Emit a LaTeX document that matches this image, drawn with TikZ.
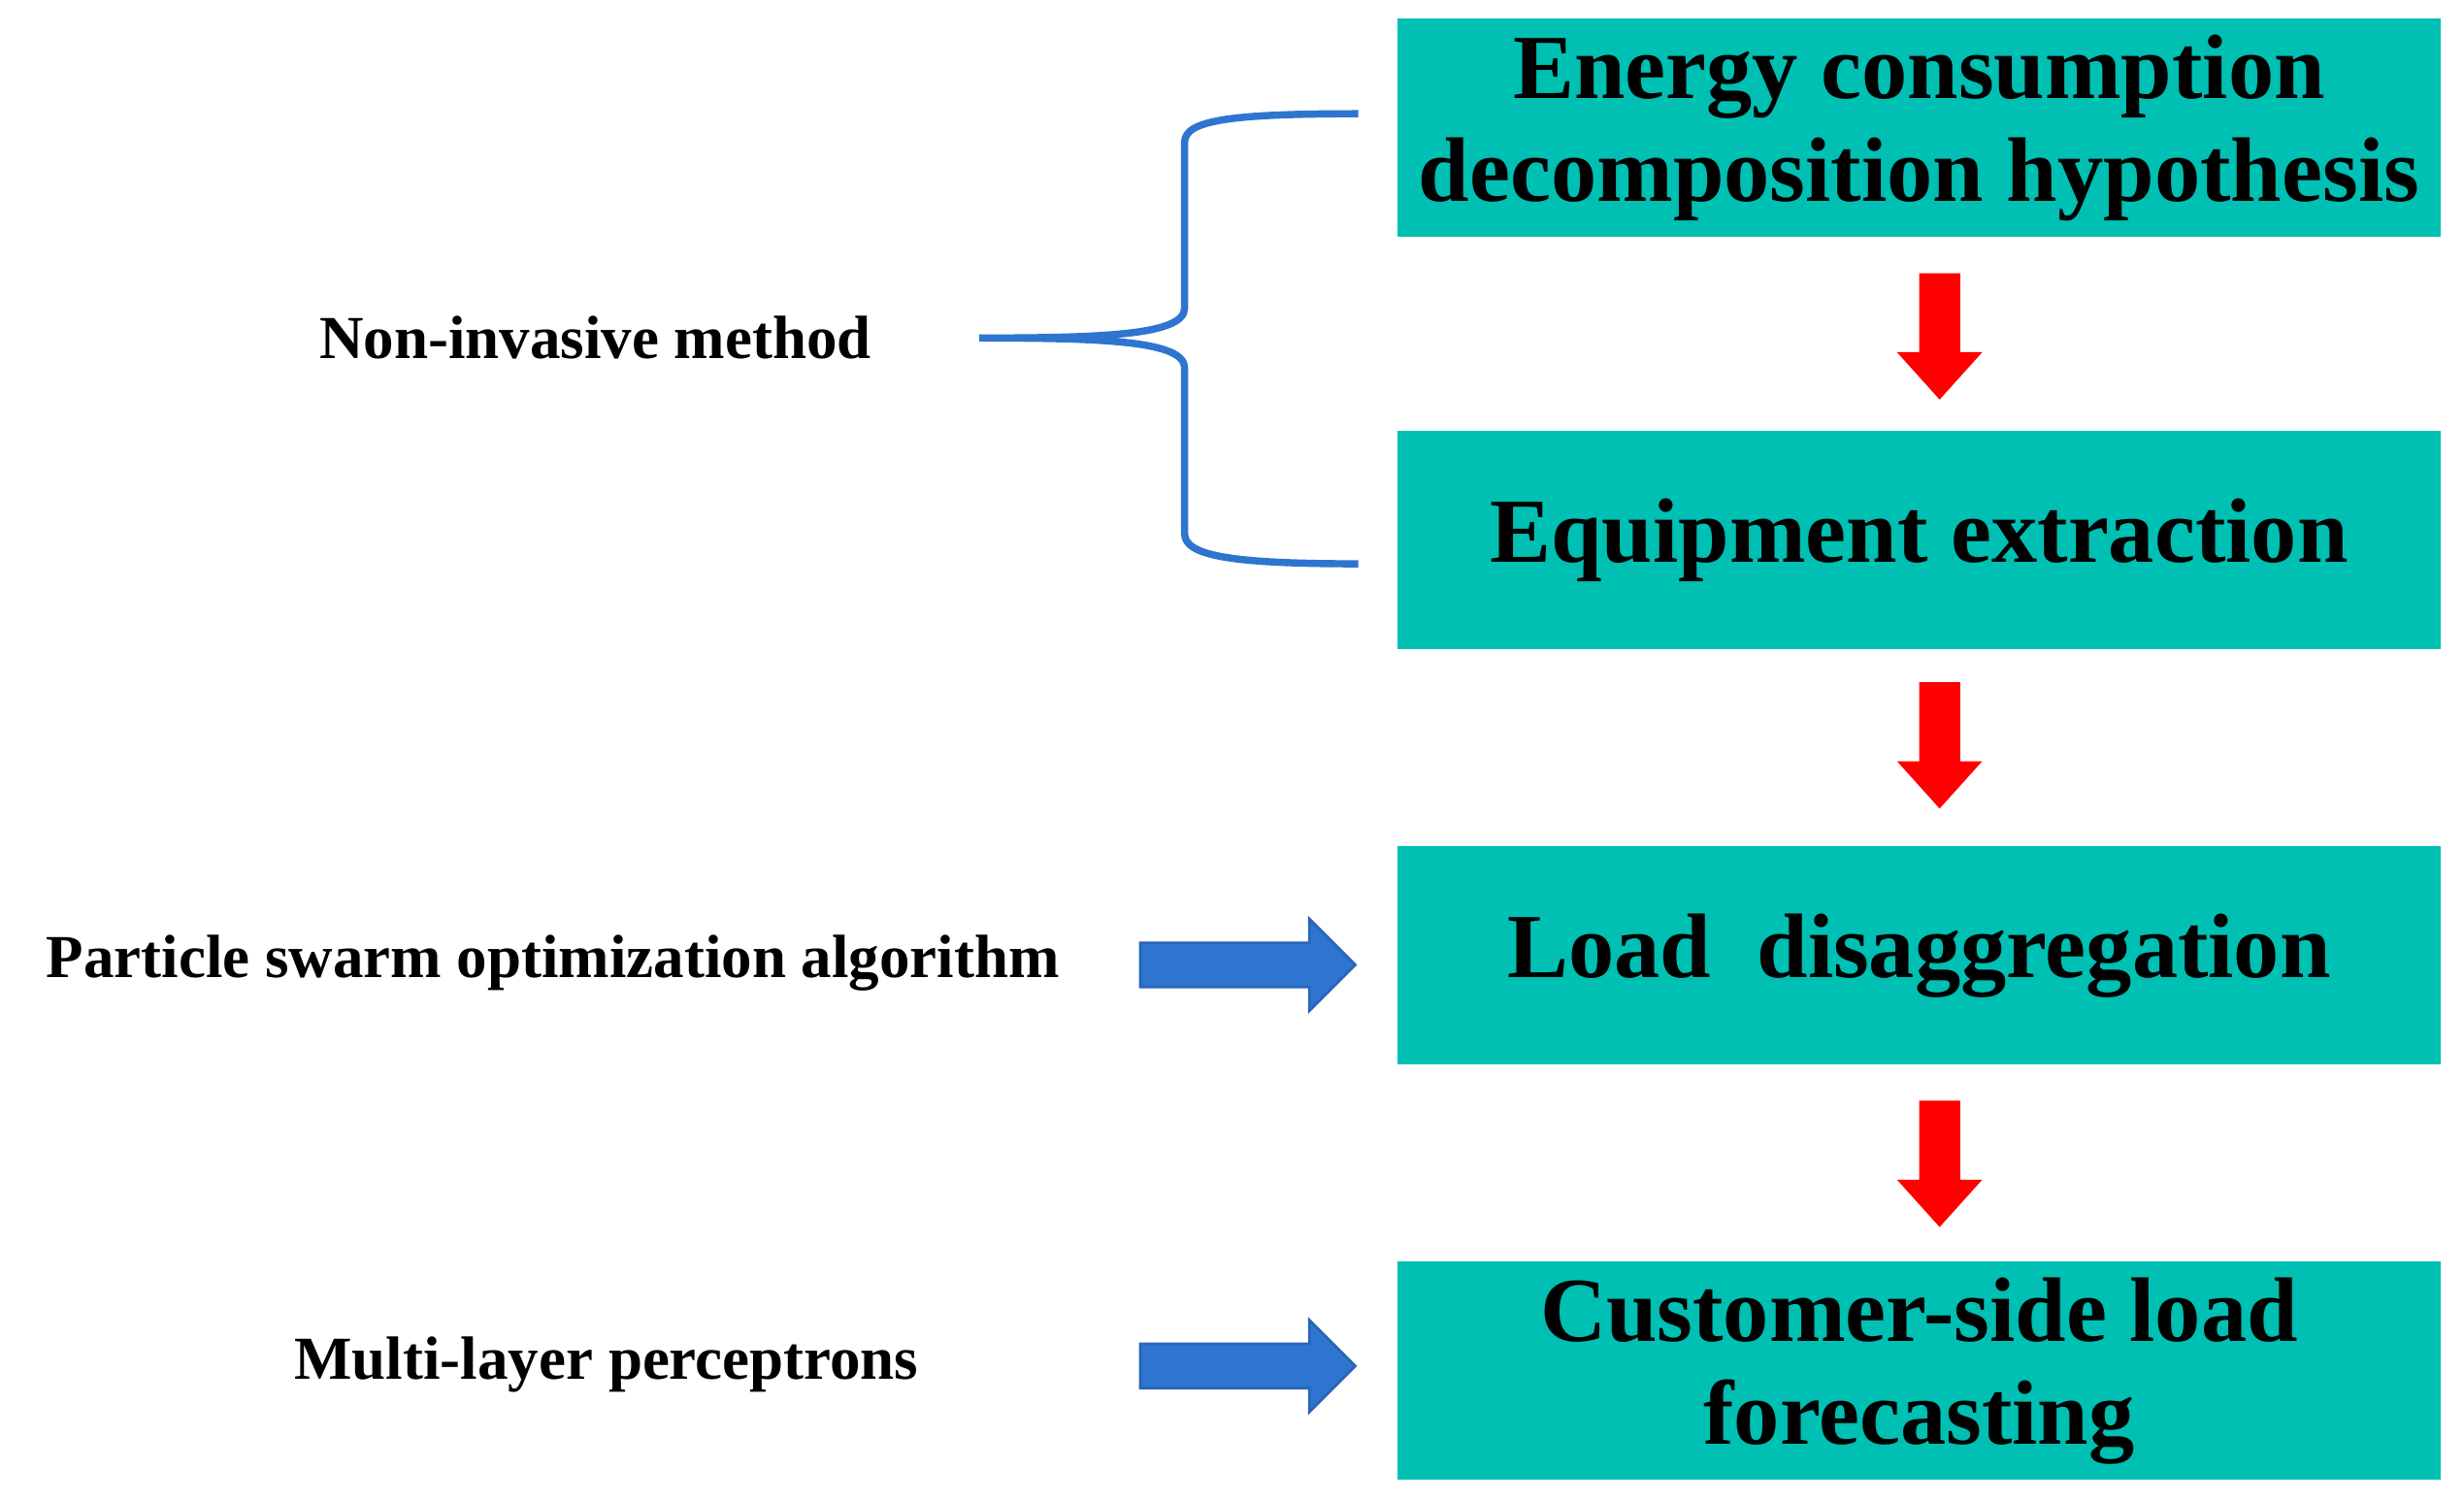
\documentclass[tikz,border=0pt]{standalone}
\usepackage{fontspec}
\setmainfont{Liberation Serif}
\begin{document}
\begin{tikzpicture}[x=0.01cm,y=-0.01cm,
 box/.style={fill=teal0,draw=none,minimum width=6.6cm,minimum height=1.38cm,inner sep=0pt,align=center,font=\fontsize{16.5}{18.5}\selectfont\bfseries},
 lab/.style={font=\fontsize{11}{13}\selectfont\bfseries,inner sep=0pt},
 red/.style={fill=red0,draw=none},
 blu/.style={fill=blue0,draw=blue1,line width=0.5pt}]
\definecolor{teal0}{HTML}{00BFB3}
\definecolor{red0}{HTML}{FF0000}
\definecolor{blue0}{HTML}{2E75D0}
\definecolor{blue1}{HTML}{2A66B8}
\useasboundingbox (0,0) rectangle (1560,950);
\node[box] (b1) at (1215,81) {Energy consumption\\decomposition hypothesis};
\node[box] (b2) at (1215,342) {Equipment extraction};
\node[box] (b3) at (1215,605) {Load\ \ disaggregation};
\node[box] (b4) at (1215,868) {Customer-side load\\forecasting};
\foreach \t in {173,432,697}{
 \fill[red0] (1215,\t) -- (1241,\t) -- (1241,\t+50) -- (1255,\t+50) -- (1228,\t+80) -- (1201,\t+50) -- (1215,\t+50) -- cycle;}
\node[lab] (l1) at (377,214) {Non-invasive method};
\node[lab] (l2) at (350,610) {Particle swarm optimization algorithm};
\node[lab] (l3) at (384,864) {Multi-layer perceptrons};
\foreach \c in {611,865}{
 \filldraw[blu] (722,\c-14) -- (829,\c-14) -- (829,\c-29) -- (858,\c) -- (829,\c+29) -- (829,\c+14) -- (722,\c+14) -- cycle;}
\coordinate (bt) at (860,72);
\coordinate (bb) at (860,357);
\coordinate (tip) at (620,214);
\draw[blue0,line width=1.3pt] (bt) .. controls (780,72) and (750,76) .. (750,90) -- (750,195) .. controls (750,212) and (700,214) .. (tip)
 (tip) .. controls (700,214) and (750,216) .. (750,233) -- (750,338) .. controls (750,352) and (780,357) .. (bb);
\end{tikzpicture}
\end{document}
